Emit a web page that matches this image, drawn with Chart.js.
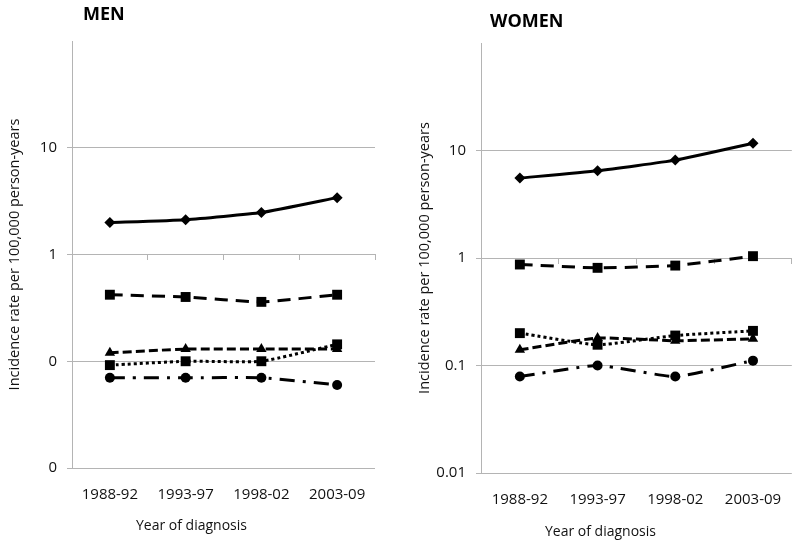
<!DOCTYPE html>
<html>
<head>
<meta charset="utf-8">
<script src="https://cdn.jsdelivr.net/npm/chart.js@4.4.1/dist/chart.umd.min.js"></script>
<style>
  body { margin: 0; background: #fff; }
  .panel { position: absolute; top: 0; width: 400px; height: 546px; }
</style>
</head>
<body>
<div class="panel" style="left:0"><canvas id="menChart" width="400" height="546"></canvas></div>
<div class="panel" style="left:400px"><canvas id="womenChart" width="400" height="546"></canvas></div>
<script>
// x categories
const periods = ['1988-92', '1993-97', '1998-02', '2003-09'];

// y ticks (log scale, decades)
const decadeTicks = [0.01, 0.1, 1, 10, 100];

// MEN – incidence per 100,000 person-years
const menSolid = [1.99, 2.12, 2.47, 3.41];
const menLongDash = [0.42, 0.40, 0.36, 0.42];
const menDash = [0.12, 0.13, 0.13, 0.13];
const menDotted = [0.092, 0.10, 0.10, 0.144];
const menDashDot = [0.070, 0.070, 0.070, 0.060];

// WOMEN
const womenSolid = [5.54, 6.48, 8.14, 11.7];
const womenLongDash = [0.87, 0.81, 0.85, 1.04];
const womenDash = [0.14, 0.18, 0.17, 0.177];
const womenDotted = [0.20, 0.156, 0.19, 0.21];
const womenDashDot = [0.079, 0.10, 0.079, 0.111];

// line / marker look for each series (same order in both panels)
const seriesStyles = [
  { dash: [], pointStyle: 'rectRot', radius: 5.5 },
  { dash: [13, 8], pointStyle: 'rect', radius: 7 },
  { dash: [9, 4], pointStyle: 'triangle', radius: 6 },
  { dash: [3, 3], pointStyle: 'rect', radius: 7 },
  { dash: [15, 8, 3, 8], pointStyle: 'circle', radius: 5 }
];

const gridGray = '#b4b4b4';
const textColor = '#111';

// panel title + x-axis title
const panelText = {
  id: 'panelText',
  afterDraw(chart, args, opts) {
    const { ctx, chartArea } = chart;
    ctx.save();
    ctx.fillStyle = '#000';
    ctx.font = 'bold 18px "Open Sans"';
    ctx.textAlign = 'left';
    ctx.textBaseline = 'alphabetic';
    ctx.fillText(opts.title, opts.titleX, opts.titleY);

    ctx.fillStyle = textColor;
    ctx.font = '14px "Open Sans"';
    ctx.textAlign = 'center';
    ctx.fillText('Year of diagnosis', chartArea.left + 119.5, opts.xTitleY);
    ctx.restore();
  }
};

function buildPanel(canvasId, seriesList, cfg) {
  const datasets = seriesList.map((values, i) => {
    const st = seriesStyles[i];
    return {
      data: values,
      borderColor: '#000',
      backgroundColor: '#000',
      borderWidth: 3,
      borderDash: st.dash,
      pointStyle: st.pointStyle,
      pointRadius: st.radius,
      pointBorderWidth: 0,
      pointBackgroundColor: '#000',
      tension: 0.15,
      clip: false
    };
  });

  return new Chart(document.getElementById(canvasId), {
    type: 'line',
    data: { labels: periods, datasets: datasets },
    options: {
      responsive: false,
      animation: false,
      devicePixelRatio: 1,
      layout: { padding: { left: 0, right: cfg.padRight, top: cfg.padTop, bottom: 0 } },
      plugins: {
        legend: { display: false },
        tooltip: { enabled: false },
        panelText: { title: cfg.title, titleX: cfg.titleX, titleY: cfg.titleY, xTitleY: cfg.xTitleY }
      },
      scales: {
        // bottom axis only carries the category labels
        x: {
          type: 'category',
          position: 'bottom',
          offset: true,
          grid: { display: false, drawTicks: false },
          border: { display: false },
          ticks: {
            color: textColor,
            font: { family: 'Open Sans', size: 15 },
            padding: 18,
            maxRotation: 0
          },
          afterFit: (scale) => { scale.height = cfg.xHeight; }
        },
        // axis line crossing at y = 1, with tick marks between categories
        xCross: {
          type: 'category',
          position: { y: 1 },
          offset: true,
          grid: { offset: true, drawOnChartArea: false, drawTicks: true, tickLength: 5, color: gridGray },
          border: { display: true, color: gridGray, width: 1 },
          ticks: { display: false }
        },
        y: {
          type: 'logarithmic',
          min: 0.01,
          max: 100,
          afterBuildTicks: (scale) => {
            scale.ticks = decadeTicks.map((v) => ({ value: v }));
          },
          grid: {
            color: (c) => (c.tick && c.tick.value === 100 ? 'rgba(0,0,0,0)' : gridGray),
            tickLength: 5
          },
          border: { display: true, color: gridGray, width: 1 },
          ticks: {
            color: textColor,
            font: { family: 'Open Sans', size: 15 },
            padding: 10,
            callback: (v) => (v === 100 ? '' : cfg.tickLabel(v))
          },
          title: {
            display: true,
            text: 'Incidence rate per 100,000 person-years',
            color: textColor,
            font: { family: 'Open Sans', size: 14.5 },
            padding: { top: cfg.yTitlePad, bottom: 0 }
          },
          afterFit: (scale) => { scale.width = cfg.yWidth; }
        }
      }
    },
    plugins: [panelText]
  });
}

// MEN: Excel shows 0.1 and 0.01 rounded to "0"
buildPanel('menChart', [menSolid, menLongDash, menDash, menDotted, menDashDot], {
  title: 'MEN', titleX: 83, titleY: 20, xTitleY: 530,
  padRight: 25, padTop: 41, xHeight: 78, yWidth: 72, yTitlePad: 6,
  tickLabel: (v) => (v >= 1 ? String(v) : '0')
});

buildPanel('womenChart', [womenSolid, womenLongDash, womenDash, womenDotted, womenDashDot], {
  title: 'WOMEN', titleX: 90, titleY: 27, xTitleY: 536,
  padRight: 7, padTop: 43, xHeight: 73, yWidth: 81, yTitlePad: 16,
  tickLabel: (v) => String(v)
});
</script>
</body>
</html>
